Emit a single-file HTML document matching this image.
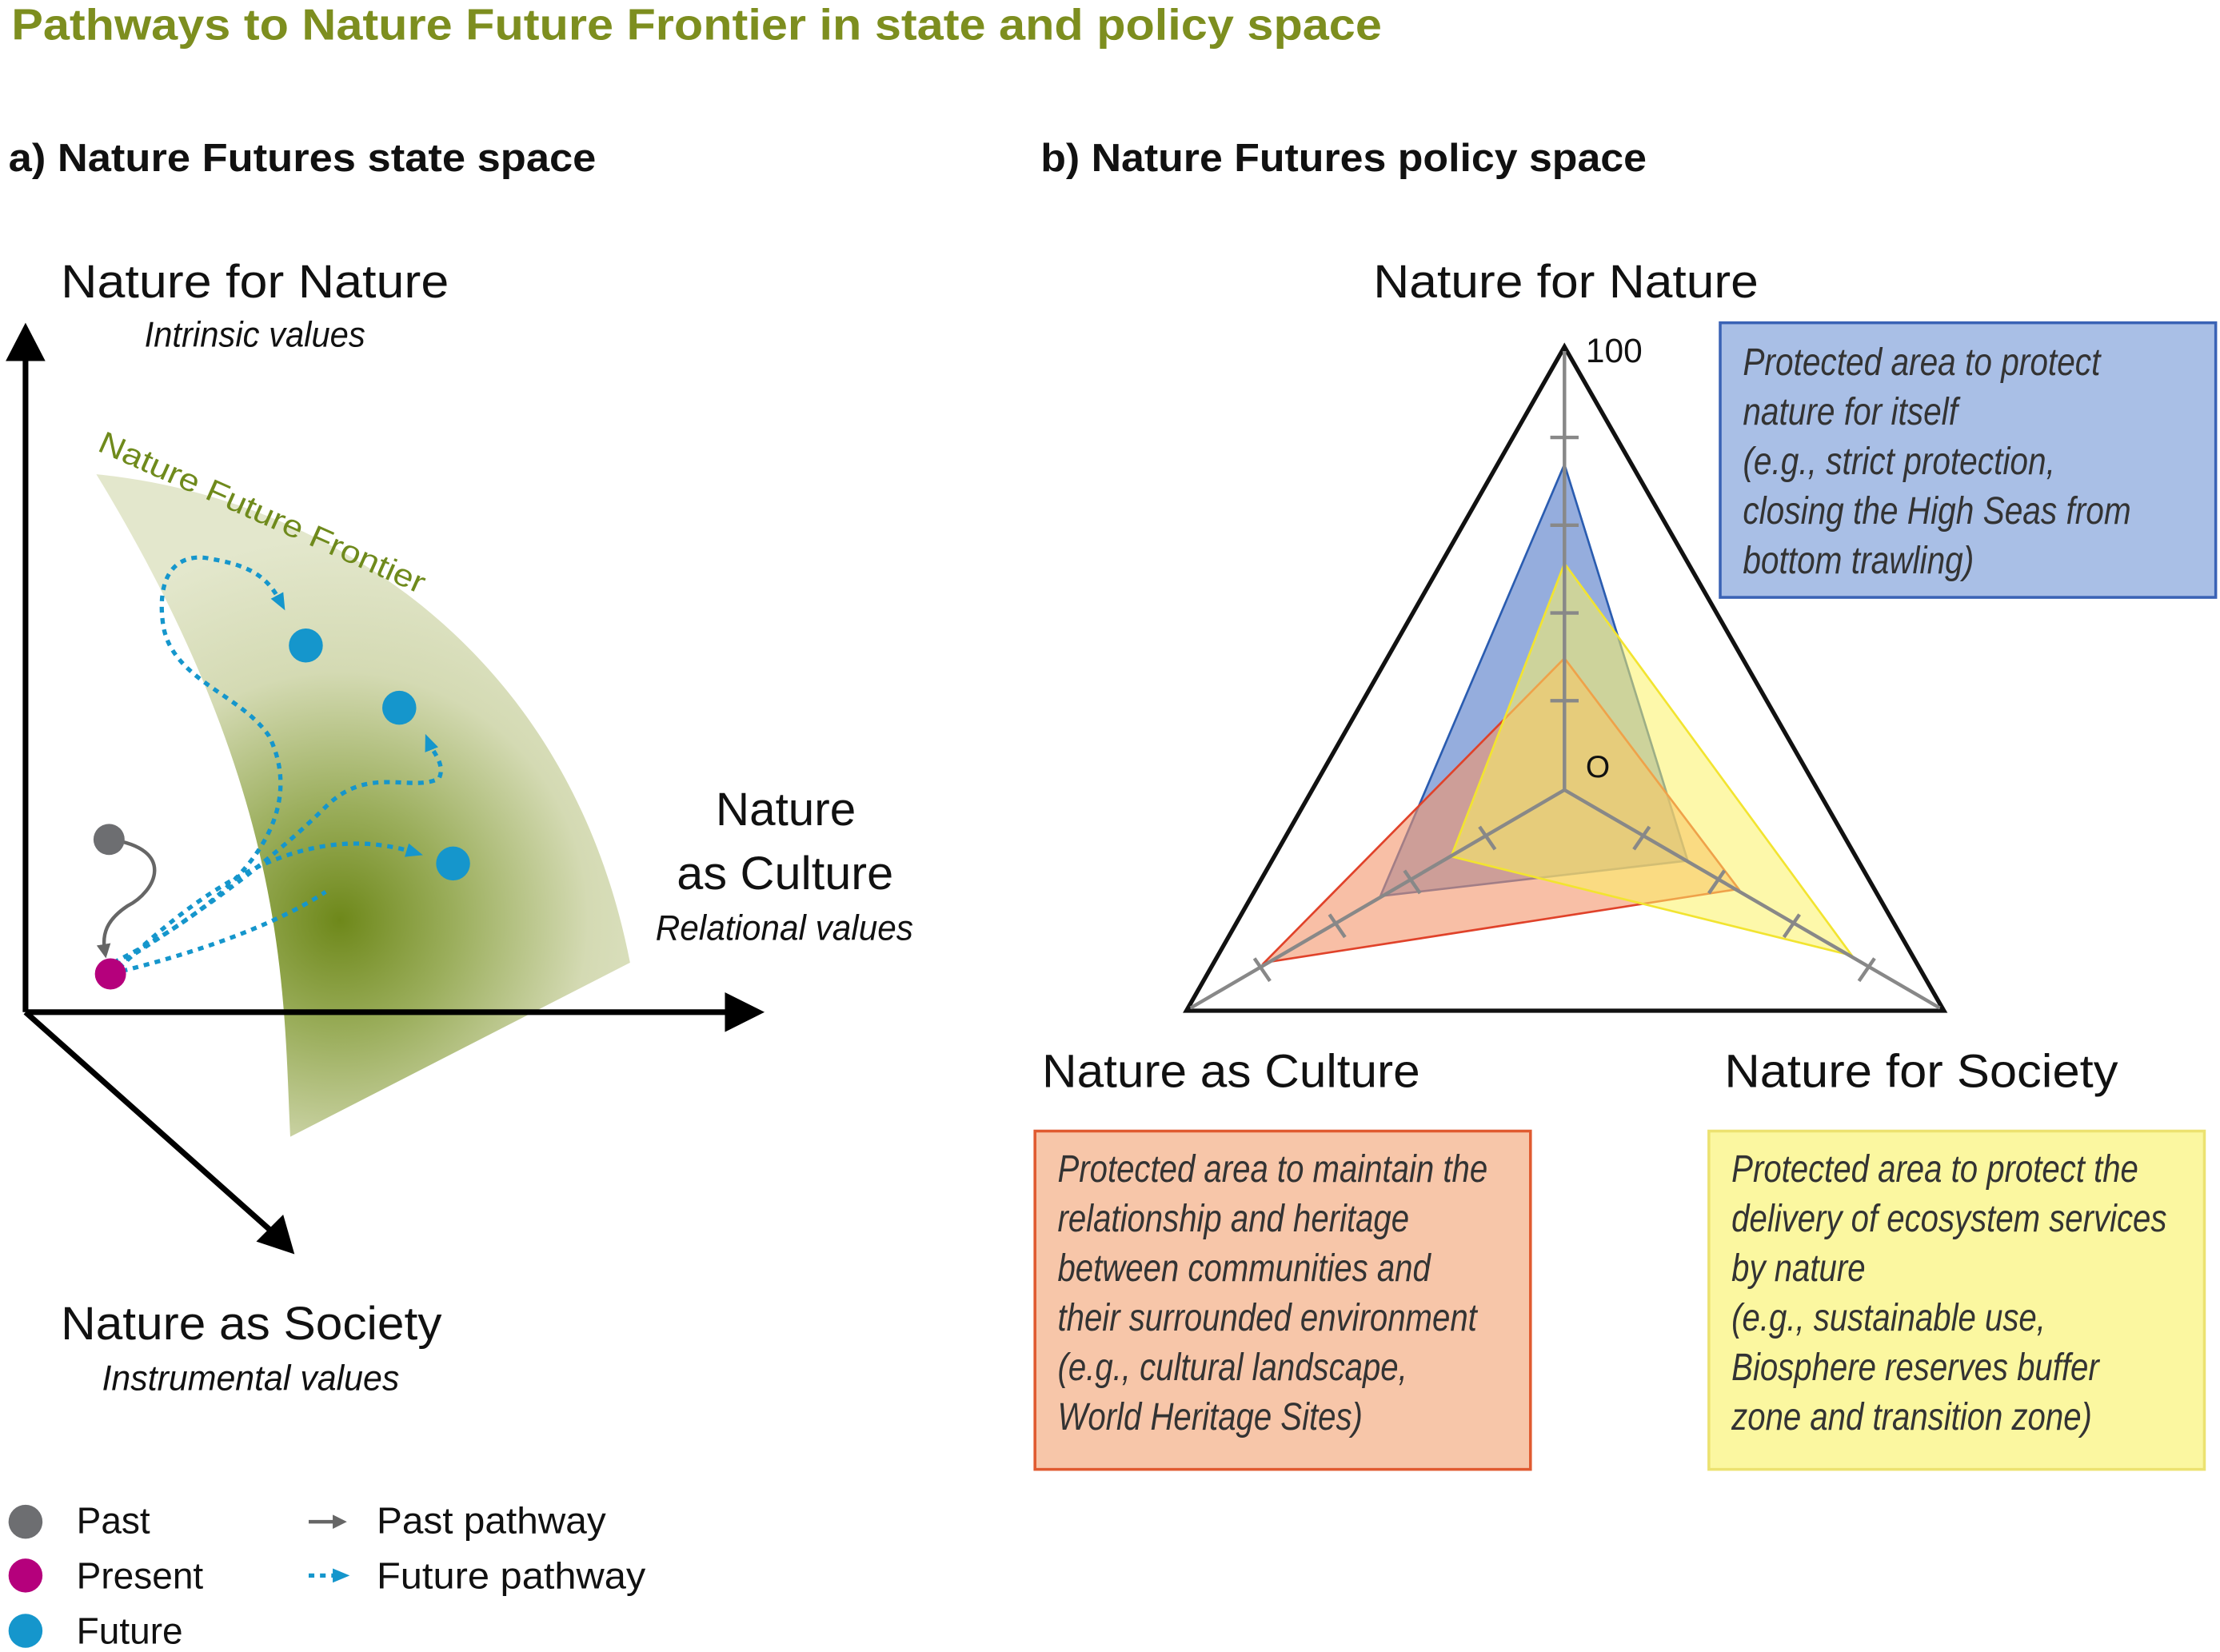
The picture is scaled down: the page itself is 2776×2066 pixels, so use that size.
<!DOCTYPE html>
<html><head><meta charset="utf-8"><style>
html,body{margin:0;padding:0;background:#fff}
svg{display:block}
text{font-family:"Liberation Sans",sans-serif}
.it{font-style:italic}
</style></head><body>
<svg width="2776" height="2066" viewBox="0 0 1568 1167" xmlns="http://www.w3.org/2000/svg">
<defs>
<radialGradient id="g" cx="240" cy="650" r="270" gradientUnits="userSpaceOnUse">
<stop offset="0" stop-color="#6e881a"/><stop offset="0.3" stop-color="#9bae5c"/><stop offset="0.65" stop-color="#d4dab3"/><stop offset="1" stop-color="#e3e7cc"/>
</radialGradient>
<marker id="ab" markerWidth="12" markerHeight="12" refX="5" refY="5" orient="auto" markerUnits="userSpaceOnUse"><path d="M0,0 L12,5 L0,10 z" fill="#1596cc"/></marker>
<marker id="ag" markerWidth="10" markerHeight="10" refX="5" refY="5" orient="auto" markerUnits="userSpaceOnUse"><path d="M0,0 L10,5 L0,10 z" fill="#666"/></marker>
</defs>
<text x="8" y="28" font-size="31" font-weight="bold" fill="#7d8e1f" textLength="968" lengthAdjust="spacingAndGlyphs">Pathways to Nature Future Frontier in state and policy space</text>
<text x="6" y="121" font-size="28" font-weight="bold" fill="#111" textLength="415" lengthAdjust="spacingAndGlyphs">a) Nature Futures state space</text>
<text x="735" y="121" font-size="28" font-weight="bold" fill="#111" textLength="428" lengthAdjust="spacingAndGlyphs">b) Nature Futures policy space</text>

<path d="M68,335 C220,350 400,450 445,680 L205,803 C200,700 205,560 68,335 Z" fill="url(#g)"/>
<text x="68" y="318" font-size="22" fill="#6f8a1c" transform="rotate(24 68 318)" textLength="250" lengthAdjust="spacingAndGlyphs">Nature Future Frontier</text>

<line x1="18" y1="715" x2="18" y2="250" stroke="#000" stroke-width="4"/>
<path d="M4,255 L18,228 L32,255 Z" fill="#000"/>
<line x1="18" y1="715" x2="515" y2="715" stroke="#000" stroke-width="4"/>
<path d="M512,701 L540,715 L512,729 Z" fill="#000"/>
<line x1="18" y1="715" x2="192" y2="870" stroke="#000" stroke-width="4"/>
<path d="M181,877 L208,886 L200,858 Z" fill="#000"/>

<text x="43" y="210" font-size="33" fill="#111" textLength="274" lengthAdjust="spacingAndGlyphs">Nature for Nature</text>
<text x="102" y="245" font-size="25" class="it" fill="#111" textLength="156" lengthAdjust="spacingAndGlyphs">Intrinsic values</text>
<text x="555" y="583" font-size="33" fill="#111" text-anchor="middle">Nature</text>
<text x="478" y="628" font-size="33" fill="#111" textLength="153" lengthAdjust="spacingAndGlyphs">as Culture</text>
<text x="463" y="664" font-size="25" class="it" fill="#111" textLength="182" lengthAdjust="spacingAndGlyphs">Relational values</text>
<text x="43" y="946" font-size="33" fill="#111" textLength="269" lengthAdjust="spacingAndGlyphs">Nature as Society</text>
<text x="72" y="982" font-size="25" class="it" fill="#111" textLength="210" lengthAdjust="spacingAndGlyphs">Instrumental values</text>

<path d="M78,593 C125,600 110,630 90,640 C75,650 72,660 74,672" fill="none" stroke="#666" stroke-width="2.5" marker-end="url(#ag)"/>
<g fill="none" stroke="#1596cc" stroke-width="3" stroke-dasharray="4,4">
<path d="M80,680 C200,620 210,560 190,520 C170,490 120,480 115,440 C110,400 130,390 150,395 C180,400 190,410 198,425" marker-end="url(#ab)"/>
<path d="M82,682 C150,640 200,600 230,570 C260,540 290,560 310,550 C315,540 305,530 303,525" marker-end="url(#ab)"/>
<path d="M84,684 C150,620 220,580 292,602" marker-end="url(#ab)"/>
<path d="M86,686 C150,670 200,650 230,630"/>
</g>
<circle cx="77" cy="593" r="11" fill="#6d6e71"/>
<circle cx="78" cy="688" r="11" fill="#b5007c"/>
<circle cx="216" cy="456" r="12" fill="#1596cc"/>
<circle cx="282" cy="500" r="12" fill="#1596cc"/>
<circle cx="320" cy="610" r="12" fill="#1596cc"/>

<circle cx="18" cy="1075" r="12" fill="#6d6e71"/>
<circle cx="18" cy="1113" r="12" fill="#b5007c"/>
<circle cx="18" cy="1152" r="12" fill="#1596cc"/>
<text x="54" y="1083" font-size="26" fill="#111">Past</text>
<text x="54" y="1122" font-size="26" fill="#111">Present</text>
<text x="54" y="1161" font-size="26" fill="#111">Future</text>
<line x1="218" y1="1075" x2="240" y2="1075" stroke="#666" stroke-width="2.5" marker-end="url(#ag)"/>
<line x1="218" y1="1113" x2="240" y2="1113" stroke="#1596cc" stroke-width="3" stroke-dasharray="4,4" marker-end="url(#ab)"/>
<text x="266" y="1083" font-size="26" fill="#111" textLength="162" lengthAdjust="spacingAndGlyphs">Past pathway</text>
<text x="266" y="1122" font-size="26" fill="#111" textLength="190" lengthAdjust="spacingAndGlyphs">Future pathway</text>

<text x="970" y="210" font-size="33" fill="#111" textLength="272" lengthAdjust="spacingAndGlyphs">Nature for Nature</text>
<text x="736" y="768" font-size="33" fill="#111" textLength="267" lengthAdjust="spacingAndGlyphs">Nature as Culture</text>
<text x="1218" y="768" font-size="33" fill="#111" textLength="278" lengthAdjust="spacingAndGlyphs">Nature for Society</text>
<polygon points="1105,245 838,714 1373,714" fill="none" stroke="#111" stroke-width="3"/>
<polygon points="1105,328 975,633 1192,608" fill="#7b98d4" fill-opacity="0.8" stroke="#2a5cb0" stroke-width="1.5"/>
<polygon points="1105,465 893,680 1228,628" fill="#f4946a" fill-opacity="0.6" stroke="#e0422a" stroke-width="1.5"/>
<polygon points="1105,398 1025,605 1308,675" fill="#fbf265" fill-opacity="0.55" stroke="#f2e430" stroke-width="1.5"/>
<g stroke="#888" stroke-width="2.5">
<line x1="1105" y1="558" x2="1105" y2="248"/>
<line x1="1105" y1="558" x2="841" y2="712"/>
<line x1="1105" y1="558" x2="1370" y2="712"/>
<line x1="1095" y1="309" x2="1115" y2="309"/>
<line x1="1095" y1="371" x2="1115" y2="371"/>
<line x1="1095" y1="433" x2="1115" y2="433"/>
<line x1="1095" y1="495" x2="1115" y2="495"/>
<line x1="1045" y1="584" x2="1056" y2="600"/>
<line x1="992" y1="615" x2="1003" y2="631"/>
<line x1="939" y1="646" x2="950" y2="662"/>
<line x1="886" y1="677" x2="897" y2="693"/>
<line x1="1165" y1="584" x2="1154" y2="600"/>
<line x1="1218" y1="615" x2="1207" y2="631"/>
<line x1="1271" y1="646" x2="1260" y2="662"/>
<line x1="1324" y1="677" x2="1313" y2="693"/>
</g>
<text x="1120" y="256" font-size="24" fill="#111">100</text>
<text x="1120" y="549" font-size="22" fill="#111">O</text>

<rect x="1215" y="228" width="350" height="194" fill="#a9bfe6" stroke="#3a62b5" stroke-width="2"/>
<g class="it" font-size="27" fill="#333" transform="translate(1231,0) scale(0.85,1) translate(-1231,0)">
<text x="1231" y="265">Protected area to protect</text>
<text x="1231" y="300">nature for itself</text>
<text x="1231" y="335">(e.g., strict protection,</text>
<text x="1231" y="370">closing the High Seas from</text>
<text x="1231" y="405">bottom trawling)</text>
</g>
<rect x="731" y="799" width="350" height="239" fill="#f7c6a9" stroke="#e05a30" stroke-width="2"/>
<g class="it" font-size="27" fill="#333" transform="translate(747,0) scale(0.84,1) translate(-747,0)">
<text x="747" y="835">Protected area to maintain the</text>
<text x="747" y="870">relationship and heritage</text>
<text x="747" y="905">between communities and</text>
<text x="747" y="940">their surrounded environment</text>
<text x="747" y="975">(e.g., cultural landscape,</text>
<text x="747" y="1010">World Heritage Sites)</text>
</g>
<rect x="1207" y="799" width="350" height="239" fill="#fbf7a0" stroke="#ece270" stroke-width="2"/>
<g class="it" font-size="27" fill="#333" transform="translate(1223,0) scale(0.84,1) translate(-1223,0)">
<text x="1223" y="835">Protected area to protect the</text>
<text x="1223" y="870">delivery of ecosystem services</text>
<text x="1223" y="905">by nature</text>
<text x="1223" y="940">(e.g., sustainable use,</text>
<text x="1223" y="975">Biosphere reserves buffer</text>
<text x="1223" y="1010">zone and transition zone)</text>
</g>
</svg>
</body></html>
